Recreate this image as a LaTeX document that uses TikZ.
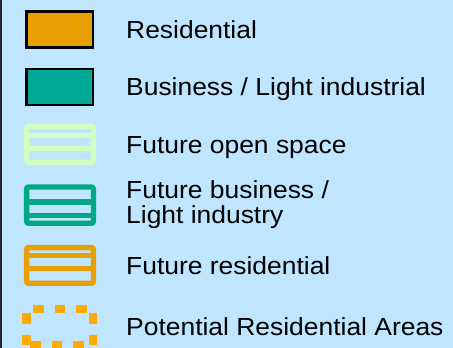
\documentclass[tikz,border=0pt]{standalone}
\usepackage{fontspec}
\setmainfont{Liberation Sans}[FakeStretch=1.07]
\usepackage{xcolor}
\usepackage{tikz}
\usetikzlibrary{positioning}

\definecolor{legendbg}{RGB}{192,230,255}
\definecolor{resiorange}{RGB}{232,160,0}
\definecolor{bizteal}{RGB}{0,168,150}
\definecolor{opengreen}{RGB}{212,255,192}
\definecolor{futbizteal}{RGB}{0,168,132}
\definecolor{potorange}{RGB}{255,170,0}

\tikzset{
  solidbox/.style={draw=black,line width=2.5pt,inner sep=0pt,
    minimum width=66.3pt,minimum height=36pt},
  hatchbox/.style={line width=5.3pt,rounded corners=2pt},
  hatchbar/.style={line width=5.3pt},
  potline/.style={potorange,line width=8.5pt,dash pattern=on 10.5pt off 11pt},
  legtext/.style={anchor=base west,inner sep=0pt,align=left,
    font=\fontsize{24.7}{25}\selectfont}
}

\begin{document}
\begin{tikzpicture}[x=1pt,y=-1pt]
  \fill [legendbg] (0,0) rectangle (453,348);
  \useasboundingbox (0,0) rectangle (453,348);
  \draw [line width=1.5pt,black!85] (0.75,0) -- (0.75,348);

  % solid areas
  \node [solidbox,fill=resiorange] (resibox) at (59.7,29.7) {};
  \node [solidbox,fill=bizteal] (bizbox) at (59.7,87.2) {};

  % future areas
  \draw [hatchbox,draw=opengreen] (26.6,126.6) rectangle (93.4,162.4);
  \draw [hatchbar,draw=opengreen] (26.6,135.3) -- (93.4,135.3);
  \draw [hatchbar,draw=opengreen] (26.6,148.5) -- (93.4,148.5);

  \draw [hatchbox,draw=futbizteal] (26.6,187) rectangle (93.4,223.2);
  \draw [hatchbar,draw=futbizteal] (26.6,202.1) -- (93.4,202.1);
  \draw [hatchbar,draw=futbizteal,line width=4.4pt] (26.6,215.5) -- (93.4,215.5);

  \draw [hatchbox,draw=resiorange] (26.6,247.6) rectangle (93.4,283.2);
  \draw [hatchbar,draw=resiorange] (26.6,255.8) -- (93.4,255.8);
  \draw [hatchbar,draw=resiorange] (26.6,268.5) -- (93.4,268.5);

  % potential areas
  \coordinate (potnw) at (26.4,309);
  \coordinate (potse) at (93.2,345.5);
  \draw [potline,dash phase=14.9pt] (potnw) -- (potnw -| potse);
  \draw [potline,dash phase=17.9pt] (potnw |- potse) -- (potse);
  \draw [potline,dash phase=17.5pt] (potnw) -- (potnw |- potse)
    (potnw -| potse) -- (potse);

  % labels
  \node [legtext] (resitext) at (126,38.3) {Residential};
  \node [legtext] (biztext) at (126,95.3) {Business / Light industrial};
  \node [legtext] (opentext) at (126,153.3) {Future open space};
  \node [legtext] (futbiztext) at (126,223.3) {Future business /\\Light industry};
  \node [legtext] (futresitext) at (126,274.3) {Future residential};
  \node [legtext] (pottext) at (126,335) {Potential Residential Areas};
\end{tikzpicture}
\end{document}
